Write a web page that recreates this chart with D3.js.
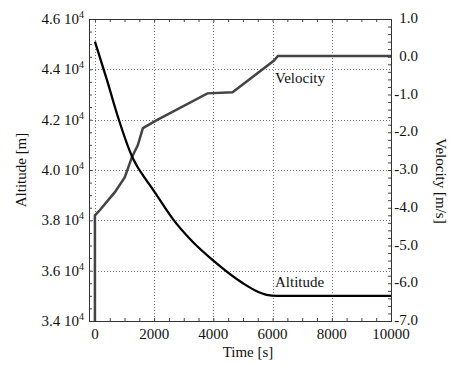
<!DOCTYPE html>
<html lang="en">

<head>
  <meta charset="utf-8">
  <title>Altitude / Velocity</title>
  <script src="https://cdn.jsdelivr.net/npm/d3@7"></script>
  <style>
    body {
      margin: 0;
      background: #fff;
    }

    svg text {
      font-family: "Liberation Serif", "Times New Roman", serif;
      fill: #111;
    }
  </style>
</head>

<body>
  <div id="chart"></div>

  <script type="text/javascript">
    // values
    var altTime = [0, 400, 780, 1250, 1450, 1620, 2000, 2635, 3300, 4000, 5000, 5400, 5800, 6150, 10000];
    var altitude = [45100, 43600, 42100, 40550, 40100, 39800, 39150, 38050, 37150, 36400, 35500, 35220, 35040, 35000, 35000];

    var velTime = [0, 0, 170, 680, 1010, 1250, 1450, 1620, 2090, 3800, 4650, 6050, 6180, 10000];
    var velocity = [-7.0, -4.2, -4.06, -3.58, -3.19, -2.66, -2.34, -1.89, -1.68, -0.97, -0.94, -0.1, 0.02, 0.02];

    var timeTicks = [0, 2000, 4000, 6000, 8000, 10000];
    var altTicks = [34000, 36000, 38000, 40000, 42000, 44000, 46000];
    var velTicks = [1, 0, -1, -2, -3, -4, -5, -6, -7];

    var width = 460, height = 365;
    // plot frame ("top" is taken by window, so other names)
    var plotLeft = 89, plotRight = 391, plotTop = 19, plotBottom = 321;

    var svg = d3.select('#chart')
      .append('svg')
      .attr('width', width)
      .attr('height', height);

    var x = d3.scaleLinear().domain([-200, 10000]).range([plotLeft, plotRight]);
    var yAlt = d3.scaleLinear().domain([34000, 46000]).range([plotBottom, plotTop]);
    var yVel = d3.scaleLinear().domain([-7, 1]).range([plotBottom, plotTop]);

    // dotted grid
    var grid = svg.append('g')
      .attr('stroke', '#777')
      .attr('stroke-width', 1)
      .attr('stroke-dasharray', '1,2');

    grid.selectAll('.vgrid')
      .data(timeTicks.filter(d => d < 10000))
      .enter().append('line')
      .attr('x1', d => Math.round(x(d)) + 0.5)
      .attr('x2', d => Math.round(x(d)) + 0.5)
      .attr('y1', plotTop)
      .attr('y2', plotBottom);

    grid.selectAll('.hgrid')
      .data(altTicks.filter(d => d > 34000 && d < 46000))
      .enter().append('line')
      .attr('x1', plotLeft)
      .attr('x2', plotRight)
      .attr('y1', d => Math.round(yAlt(d)) + 0.5)
      .attr('y2', d => Math.round(yAlt(d)) + 0.5);

    // axes, ticks pointing inward
    var fmtNone = () => '';
    svg.append('g')
      .attr('transform', 'translate(0,' + plotBottom + ')')
      .call(d3.axisTop(x).tickValues(d3.range(0, 10001, 500)).tickSize(3).tickFormat(fmtNone));
    svg.append('g')
      .attr('transform', 'translate(0,' + plotTop + ')')
      .call(d3.axisBottom(x).tickValues(d3.range(0, 10001, 500)).tickSize(3).tickFormat(fmtNone));
    svg.append('g')
      .attr('transform', 'translate(' + plotLeft + ',0)')
      .call(d3.axisRight(yAlt).tickValues(d3.range(34000, 46001, 500)).tickSize(3).tickFormat(fmtNone));
    svg.append('g')
      .attr('transform', 'translate(' + plotRight + ',0)')
      .call(d3.axisLeft(yVel).tickValues(d3.range(-7, 1.001, 0.2)).tickSize(3).tickFormat(fmtNone));

    svg.selectAll('.domain').remove();
    svg.selectAll('.tick line').attr('stroke', '#444');

    svg.append('rect')
      .attr('x', plotLeft + 0.5)
      .attr('y', plotTop + 0.5)
      .attr('width', plotRight - plotLeft)
      .attr('height', plotBottom - plotTop)
      .attr('fill', 'none')
      .attr('stroke', '#333')
      .attr('stroke-width', 1);

    // tick labels
    svg.selectAll('.xlab')
      .data(timeTicks)
      .enter().append('text')
      .attr('x', d => x(d))
      .attr('y', 339)
      .attr('text-anchor', 'middle')
      .style('font-size', '15px')
      .text(d => d);

    var altLab = svg.selectAll('.ylab')
      .data(altTicks)
      .enter().append('text')
      .attr('x', 84)
      .attr('y', d => yAlt(d) + 5)
      .attr('text-anchor', 'end')
      .style('font-size', '15px');
    altLab.append('tspan').text(d => (d / 10000).toFixed(1) + ' 10');
    altLab.append('tspan')
      .attr('dy', -6)
      .style('font-size', '10px')
      .text('4');

    svg.selectAll('.vlab')
      .data(velTicks)
      .enter().append('text')
      .attr('x', 418)
      .attr('y', d => yVel(d) + 4)
      .attr('text-anchor', 'end')
      .style('font-size', '15px')
      .text(d => (d < 0 ? '-' : '') + Math.abs(d).toFixed(1));

    // lines
    var lineAlt = d3.line()
      .x((d, i) => x(altTime[i]))
      .y(d => yAlt(d))
      .curve(d3.curveMonotoneX);

    var lineVel = d3.line()
      .x((d, i) => x(velTime[i]))
      .y(d => yVel(d));

    svg.append('path')
      .datum(velocity)
      .attr('d', lineVel)
      .attr('fill', 'none')
      .attr('stroke', '#444')
      .attr('stroke-width', 2.5);

    svg.append('path')
      .datum(altitude)
      .attr('d', lineAlt)
      .attr('fill', 'none')
      .attr('stroke', '#000')
      .attr('stroke-width', 2.3);

    // series labels
    svg.append('text')
      .attr('x', 275)
      .attr('y', 83)
      .style('font-size', '15px')
      .text('Velocity');

    svg.append('text')
      .attr('x', 275)
      .attr('y', 287)
      .style('font-size', '15px')
      .text('Altitude');

    // axis titles
    svg.append('text')
      .attr('x', 248)
      .attr('y', 357)
      .attr('text-anchor', 'middle')
      .style('font-size', '15px')
      .text('Time [s]');

    svg.append('text')
      .attr('transform', 'translate(26,170) rotate(-90)')
      .attr('text-anchor', 'middle')
      .style('font-size', '15px')
      .text('Altitude [m]');

    svg.append('text')
      .attr('transform', 'translate(436,181) rotate(90)')
      .attr('text-anchor', 'middle')
      .style('font-size', '15px')
      .text('Velocity [m/s]');
  </script>
</body>

</html>
